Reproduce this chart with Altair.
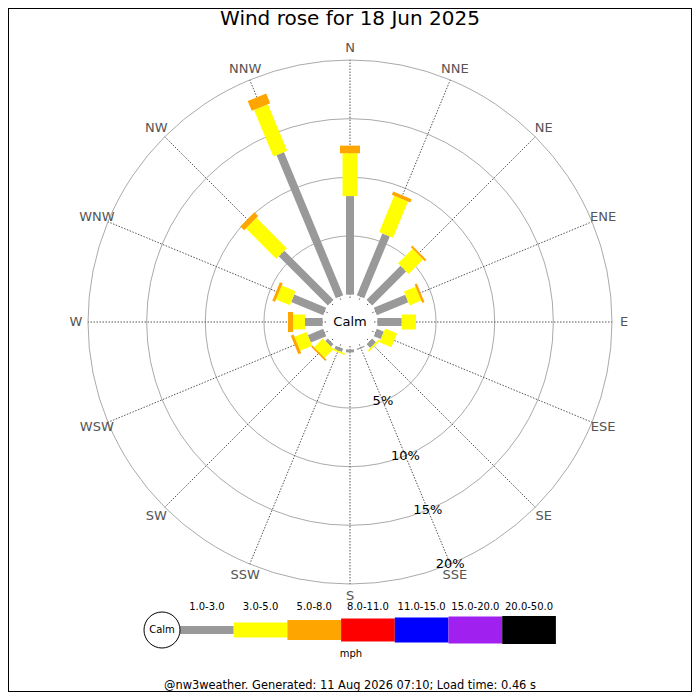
import math
import pandas as pd
import altair as alt

# wind rose for 18 Jun 2025, % of the day per direction and speed band (mph)
directions = ["N", "NNE", "NE", "ENE", "E", "ESE", "SE", "SSE",
              "S", "SSW", "SW", "WSW", "W", "WNW", "NW", "NNW"]
pct_1_3 = [8.4, 5.7, 4.1, 2.9, 2.07, 0.65, 0.45, 0.1,
           0.25, 0.3, 0.3, 1.42, 1.5, 2.95, 5.92, 13.2]
pct_3_5 = [3.65, 3.35, 1.75, 1.08, 1.22, 1.1, 0.15, 0.0,
           0.0, 0.15, 1.05, 1.1, 1.02, 1.28, 3.66, 4.3]
pct_5_8 = [0.65, 0.3, 0.17, 0.2, 0.0, 0.0, 0.0, 0.0,
           0.0, 0.0, 0.15, 0.26, 0.43, 0.25, 0.46, 0.9]

bands = ["1.0-3.0", "3.0-5.0", "5.0-8.0", "8.0-11.0", "11.0-15.0", "15.0-20.0", "20.0-50.0"]
band_colors = ["#999999", "#ffff00", "#ffa500", "#ff0000", "#0000ff", "#a020f0", "#000000"]
band_widths = [8, 15, 20, 23, 25, 27, 28]
rings = [5, 10, 15, 20]

title = "Wind rose for 18 Jun 2025"
footer = "@nw3weather. Generated: 11 Aug 2026 07:10; Load time: 0.46 s"

PX = 11.73          # pixels per percent
OFF = 27.4 / PX     # room for the calm circle
W, H = 684, 684
CX, CY = 342, 314   # centre of the rose inside the view

xs = alt.Scale(domain=[-CX / PX, (W - CX) / PX], nice=False, zero=False)
ys = alt.Scale(domain=[-(H - CY) / PX, CY / PX], nice=False, zero=False)

X = alt.X("x:Q", scale=xs, axis=None)
Y = alt.Y("y:Q", scale=ys, axis=None)
R = alt.Radius("rpx:Q", scale=None, stack=None)   # radius in pixels (r * PX)
FONT = "DejaVu Sans"


def polar(r, i):
    a = math.radians(i * 22.5)
    return r * math.sin(a), r * math.cos(a)


# bar segments
rows = []
for i, d in enumerate(directions):
    base = OFF
    for b, vals in zip(bands, [pct_1_3, pct_3_5, pct_5_8]):
        v = vals[i]
        if v > 0:
            x, y = polar(base, i)
            x2, y2 = polar(base + v, i)
            rows.append({"dir": d, "band": b, "x": x, "y": y, "x2": x2, "y2": y2,
                         "w": band_widths[bands.index(b)]})
            base += v
segs = pd.DataFrame(rows)

spokes = pd.DataFrame([
    dict(zip(["x", "y"], polar(24 / PX, i))) | dict(zip(["x2", "y2"], polar(20 + OFF, i)))
    for i in range(len(directions))
])
dir_labels = pd.DataFrame([
    dict(zip(["x", "y"], polar(274 / PX, i))) | {"t": d}
    for i, d in enumerate(directions)
])
pct_labels = pd.DataFrame([
    dict(zip(["x", "y"], polar(r + OFF, 7))) | {"t": f"{r}%"} for r in rings
])
ring_df = pd.DataFrame({"x": 0.0, "y": 0.0, "rpx": [(r + OFF) * PX for r in rings]})

color = alt.Color("band:N", scale=alt.Scale(domain=bands, range=band_colors), legend=None)
size = alt.Size("w:Q", scale=None, legend=None)

ring_layer = alt.Chart(ring_df).mark_arc(
    filled=False, stroke="#aaaaaa", strokeWidth=1, theta=0, theta2=2 * math.pi
).encode(x=X, y=Y, radius=R)

spoke_layer = alt.Chart(spokes).mark_rule(
    color="#555555", strokeWidth=1, strokeDash=[1.5, 1.5]
).encode(x=X, y=Y, x2="x2:Q", y2="y2:Q")

calm_disk = alt.Chart(pd.DataFrame({"x": [0.0], "y": [0.0], "rpx": [24]})).mark_arc(
    fill="white", theta=0, theta2=2 * math.pi
).encode(x=X, y=Y, radius=R)

bar_layer = alt.Chart(segs).mark_rule().encode(
    x=X, y=Y, x2="x2:Q", y2="y2:Q", color=color, size=size
)

dir_text = alt.Chart(dir_labels).mark_text(font=FONT, fontSize=13, color="#555555").encode(
    x=X, y=Y, text="t:N")
pct_text = alt.Chart(pct_labels).mark_text(font=FONT, fontSize=13, color="black").encode(
    x=X, y=Y, text="t:N")


def label(t, x_px, y_px, fs, **kw):
    df = pd.DataFrame({"t": [t], "x": [x_px / PX], "y": [y_px / PX]})
    return alt.Chart(df).mark_text(font=FONT, fontSize=fs, color="black", **kw).encode(
        x=X, y=Y, text="t:N")


# legend below the rose
LEG_Y = -308
LEG_X0, LEG_W = -170, 53.7
leg = pd.DataFrame({
    "band": bands,
    "w": band_widths,
    "x": [(LEG_X0 + i * LEG_W) / PX for i in range(len(bands))],
    "x2": [(LEG_X0 + (i + 1) * LEG_W) / PX for i in range(len(bands))],
    "y": LEG_Y / PX,
})
leg["xm"] = (leg["x"] + leg["x2"]) / 2
leg["yt"] = -285 / PX

leg_bars = alt.Chart(leg).mark_rule().encode(
    x=X, y=Y, x2="x2:Q", y2="y:Q", color=color, size=size)
leg_text = alt.Chart(leg).mark_text(font=FONT, fontSize=10, color="black").encode(
    x=alt.X("xm:Q", scale=xs, axis=None), y=alt.Y("yt:Q", scale=ys, axis=None), text="band:N")
leg_calm = alt.Chart(pd.DataFrame({"x": [-188 / PX], "y": [LEG_Y / PX], "rpx": [18]})).mark_arc(
    fill="white", stroke="black", strokeWidth=1, theta=0, theta2=2 * math.pi
).encode(x=X, y=Y, radius=R)

chart = alt.layer(
    ring_layer, spoke_layer, calm_disk, bar_layer, dir_text, pct_text,
    label("Calm", 0, 0, 13),
    label(title, 0, 303, 20),
    leg_bars, leg_calm, leg_text,
    label("Calm", -188, LEG_Y, 10),
    label("mph", 1, -332, 10),
    label(footer, 0, -364, 11.4),
).properties(
    width=W, height=H, padding=0,
    autosize=alt.AutoSizeParams(type="none"),
).configure(font=FONT).configure_view(stroke="black", strokeWidth=2)

chart.save("out.html", embed_options={"renderer": "svg", "actions": False})
